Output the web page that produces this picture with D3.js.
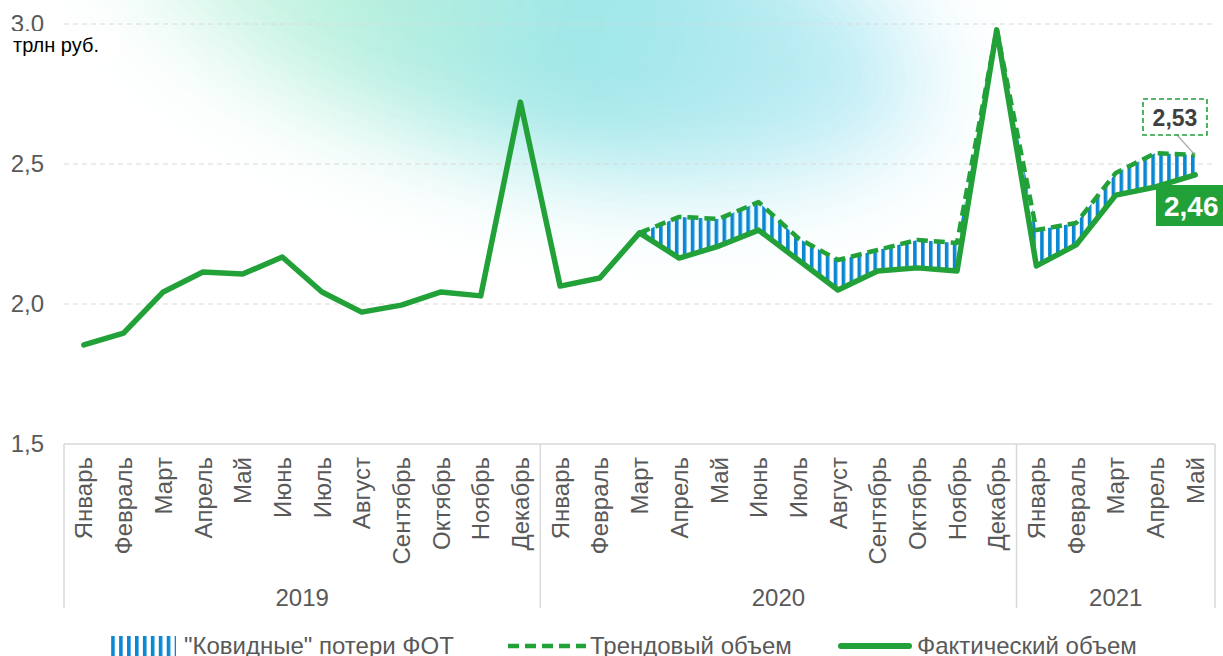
<!DOCTYPE html>
<html>
<head>
<meta charset="utf-8">
<script src="https://cdn.jsdelivr.net/npm/d3@7/dist/d3.min.js"></script>
<style>
  html, body { margin: 0; padding: 0; background: #fff; }
  svg { display: block; font-family: "Liberation Sans", Arial, sans-serif; }
</style>
</head>
<body>
<svg id="chart"></svg>
<script>
// месяцы по оси X (2019: 12, 2020: 12, 2021: 5)
const months = [
  'Январь','Февраль','Март','Апрель','Май','Июнь','Июль','Август','Сентябрь','Октябрь','Ноябрь','Декабрь',
  'Январь','Февраль','Март','Апрель','Май','Июнь','Июль','Август','Сентябрь','Октябрь','Ноябрь','Декабрь',
  'Январь','Февраль','Март','Апрель','Май'
];
const years = ['2019', '2020', '2021'];
const yearCounts = [12, 12, 5];

// фактический объем ФОТ, трлн руб.
const actual = [
  1.854, 1.896, 2.043, 2.114, 2.107, 2.168, 2.043, 1.971, 1.996, 2.043, 2.029, 2.721,
  2.064, 2.093, 2.254, 2.164, 2.207, 2.264, 2.157, 2.050, 2.118, 2.129, 2.118, 2.979,
  2.136, 2.211, 2.389, 2.418, 2.461
];
// трендовый объем (с марта 2020)
const trend = [
  null, null, null, null, null, null, null, null, null, null, null, null,
  null, null, 2.254, 2.311, 2.304, 2.364, 2.235, 2.157, 2.193, 2.229, 2.218, 2.979,
  2.264, 2.289, 2.468, 2.539, 2.532
];
const yTicks = [1.5, 2.0, 2.5, 3.0];
const legendLabels = ['"Ковидные" потери ФОТ', 'Трендовый объем', 'Фактический объем'];
const lastTrendLabel = '2,53';
const lastActualLabel = '2,46';

const width = 1223, height = 656;
const GREEN = '#22a139', BLUE = '#0a87d2', GREY = '#595959', AXIS = '#d9d9d9';

const svg = d3.select('#chart').attr('width', width).attr('height', height);
const defs = svg.append('defs');

// фон: размытое бирюзовое пятно сверху
const bg = defs.append('linearGradient').attr('id', 'glow').attr('x1', 0).attr('x2', 1).attr('y1', 0).attr('y2', 0);
bg.append('stop').attr('offset', '0%').attr('stop-color', '#e4faef');
bg.append('stop').attr('offset', '30%').attr('stop-color', '#b6f0dc');
bg.append('stop').attr('offset', '60%').attr('stop-color', '#9ae5e8');
bg.append('stop').attr('offset', '100%').attr('stop-color', '#c6eef9');
defs.append('filter').attr('id', 'blur').attr('x', '-50%').attr('y', '-50%').attr('width', '200%').attr('height', '200%')
  .append('feGaussianBlur').attr('stdDeviation', 50);

svg.append('ellipse')
  .attr('cx', 520).attr('cy', 0).attr('rx', 420).attr('ry', 155)
  .attr('transform', 'rotate(14,520,0)')
  .attr('fill', 'url(#glow)')
  .attr('opacity', 0.95)
  .attr('filter', 'url(#blur)');

// штриховка
const pat = defs.append('pattern').attr('id', 'stripes')
  .attr('patternUnits', 'userSpaceOnUse').attr('width', 7.94).attr('height', 10);
pat.append('rect').attr('x', 0).attr('y', 0).attr('width', 3.6).attr('height', 10).attr('fill', BLUE);

const x = d3.scaleBand().domain(d3.range(months.length)).range([64, 1215]).padding(0);
const xc = i => x(i) + x.bandwidth() / 2;
const y = d3.scaleLinear().domain([1.5, 3.0]).range([444, 24]);
const fmt = v => d3.format('.1f')(v).replace('.', ',');

// сетка
svg.append('g').selectAll('line')
  .data(yTicks.filter(t => t > 1.5))
  .enter().append('line')
  .attr('x1', 64).attr('x2', 1215)
  .attr('y1', d => y(d)).attr('y2', d => y(d))
  .attr('stroke', AXIS).attr('stroke-width', 1.2).attr('stroke-dasharray', '5,4');

// ось Y
const yAxis = svg.append('g')
  .attr('transform', 'translate(44,0)')
  .call(d3.axisLeft(y).tickValues(yTicks).tickFormat(fmt).tickSize(0).tickPadding(0));
yAxis.select('.domain').remove();
yAxis.selectAll('text').attr('fill', GREY).style('font-size', '24px').attr('font-family', null);

// ось X
svg.append('line').attr('x1', 64).attr('x2', 1215).attr('y1', 444).attr('y2', 444)
  .attr('stroke', AXIS).attr('stroke-width', 1.5);

const bounds = [0];
yearCounts.forEach(n => bounds.push(bounds[bounds.length - 1] + n));
svg.append('g').selectAll('line')
  .data(bounds)
  .enter().append('line')
  .attr('x1', d => d < months.length ? x(d) : x(d - 1) + x.bandwidth())
  .attr('x2', d => d < months.length ? x(d) : x(d - 1) + x.bandwidth())
  .attr('y1', 444).attr('y2', 608)
  .attr('stroke', AXIS).attr('stroke-width', 1.5);

const xAxis = svg.append('g')
  .attr('transform', 'translate(0,444)')
  .call(d3.axisBottom(x).tickFormat(i => months[i]).tickSize(0));
xAxis.select('.domain').remove();
xAxis.selectAll('text')
  .attr('font-family', null)
  .attr('fill', GREY)
  .style('font-size', '24px')
  .attr('text-anchor', 'end')
  .attr('transform', 'translate(0,13) rotate(-90)')
  .attr('x', 0).attr('y', 0).attr('dy', '0.36em');

svg.append('g').selectAll('text')
  .data(years)
  .enter().append('text')
  .attr('x', (d, i) => (x(bounds[i]) + x(bounds[i + 1] - 1) + x.bandwidth()) / 2)
  .attr('y', 606)
  .attr('text-anchor', 'middle')
  .attr('fill', GREY)
  .style('font-size', '24px')
  .text(d => d);

// потери
const area = d3.area()
  .defined((d, i) => trend[i] != null)
  .x((d, i) => xc(i))
  .y0((d, i) => y(actual[i]))
  .y1((d, i) => y(trend[i]));
svg.append('path').datum(actual).attr('d', area).attr('fill', 'url(#stripes)');

// тренд
const line = d3.line().defined(d => d != null).x((d, i) => xc(i)).y(d => y(d));
svg.append('path').datum(trend).attr('d', line)
  .attr('fill', 'none').attr('stroke', GREEN).attr('stroke-width', 4.5)
  .attr('stroke-dasharray', '11,6').attr('stroke-linejoin', 'round');

// факт
svg.append('path').datum(actual).attr('d', line)
  .attr('fill', 'none').attr('stroke', GREEN).attr('stroke-width', 5.5)
  .attr('stroke-linejoin', 'round').attr('stroke-linecap', 'round');

// подписи последних значений
const last = months.length - 1;
svg.append('line')
  .attr('x1', 1177).attr('y1', 135).attr('x2', xc(last)).attr('y2', y(trend[last]))
  .attr('stroke', '#a6a6a6').attr('stroke-width', 1.2);
svg.append('rect').attr('x', 1143).attr('y', 99).attr('width', 64).attr('height', 36)
  .attr('fill', '#fff').attr('stroke', GREEN).attr('stroke-width', 1.6).attr('stroke-dasharray', '5,3');
svg.append('text').attr('x', 1175).attr('y', 126).attr('text-anchor', 'middle')
  .attr('fill', '#404040').style('font-size', '23px').style('font-weight', 'bold')
  .text(lastTrendLabel);

svg.append('rect').attr('x', 1156).attr('y', 185).attr('width', 70).attr('height', 41).attr('fill', GREEN);
svg.append('text').attr('x', 1164).attr('y', 216)
  .attr('fill', '#fff').style('font-size', '28px').style('font-weight', 'bold')
  .text(lastActualLabel);

// единицы
svg.append('rect').attr('x', 0).attr('y', 31).attr('width', 119).attr('height', 27).attr('fill', '#fff');
svg.append('text').attr('x', 13).attr('y', 52).attr('fill', '#000').style('font-size', '20px').text('трлн руб.');

// легенда
const lg = svg.append('g');
lg.append('rect').attr('x', 109).attr('y', 636).attr('width', 67).attr('height', 20).attr('fill', 'url(#stripes)');
lg.append('line').attr('x1', 508).attr('x2', 586).attr('y1', 646).attr('y2', 646)
  .attr('stroke', GREEN).attr('stroke-width', 4.5).attr('stroke-dasharray', '11,6');
lg.append('line').attr('x1', 841).attr('x2', 909).attr('y1', 646).attr('y2', 646)
  .attr('stroke', GREEN).attr('stroke-width', 6).attr('stroke-linecap', 'round');
lg.selectAll('text.lg')
  .data(legendLabels)
  .enter().append('text')
  .attr('class', 'lg')
  .attr('x', (d, i) => [184, 590, 917][i])
  .attr('y', 654)
  .attr('fill', GREY)
  .style('font-size', '24px')
  .text(d => d);
</script>
</body>
</html>
